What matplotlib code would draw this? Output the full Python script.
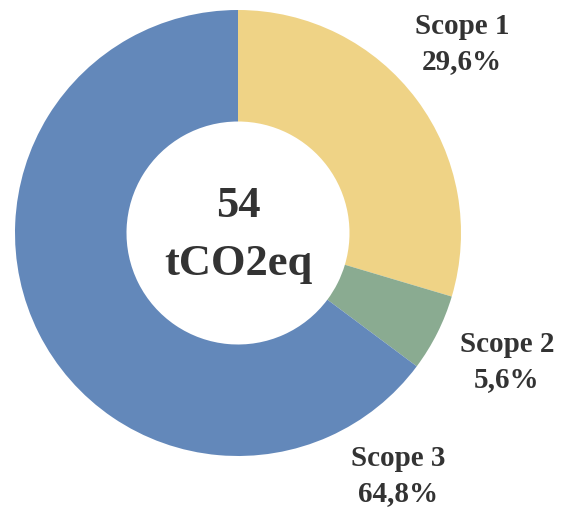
import matplotlib
matplotlib.use("Agg")
import matplotlib.pyplot as plt

scopes = ["Scope 1", "Scope 2", "Scope 3"]
shares = [29.6, 5.6, 64.8]
colors = ["#EFD386", "#8AAB91", "#6388BA"]
total = "54"
unit = "tCO2eq"

plt.rcParams['font.family'] = ['Liberation Serif', 'DejaVu Serif']
txt = "#333333"

fig = plt.figure(figsize=(5.78, 5.12), dpi=100)
ax = fig.add_axes([15 / 578, 56 / 512, 446 / 578, 446 / 512])
ax.pie(shares, colors=colors, startangle=90, counterclock=False,
       wedgeprops=dict(width=0.5, edgecolor='none'))
ax.set_aspect('equal')
ax.set_xlim(-1, 1)
ax.set_ylim(-1, 1)
ax.axis('off')

ax.text(0, 0.12, total, ha='center', va='center', fontsize=32, fontweight='bold', color=txt)
ax.text(0, -0.14, unit, ha='center', va='center', fontsize=32, fontweight='bold', color=txt)

# label positions in figure pixels
label_pos = [(462, 44), (507, 362), (398, 476)]
for name, val, (px, py) in zip(scopes, shares, label_pos):
    s = f"{name}\n{val:.1f}%".replace('.', ',')
    fig.text(px / 578, 1 - py / 512, s, ha='center', va='center', fontsize=21,
             fontweight='bold', color=txt, linespacing=1.38)

fig.savefig("out.png", dpi=100)
